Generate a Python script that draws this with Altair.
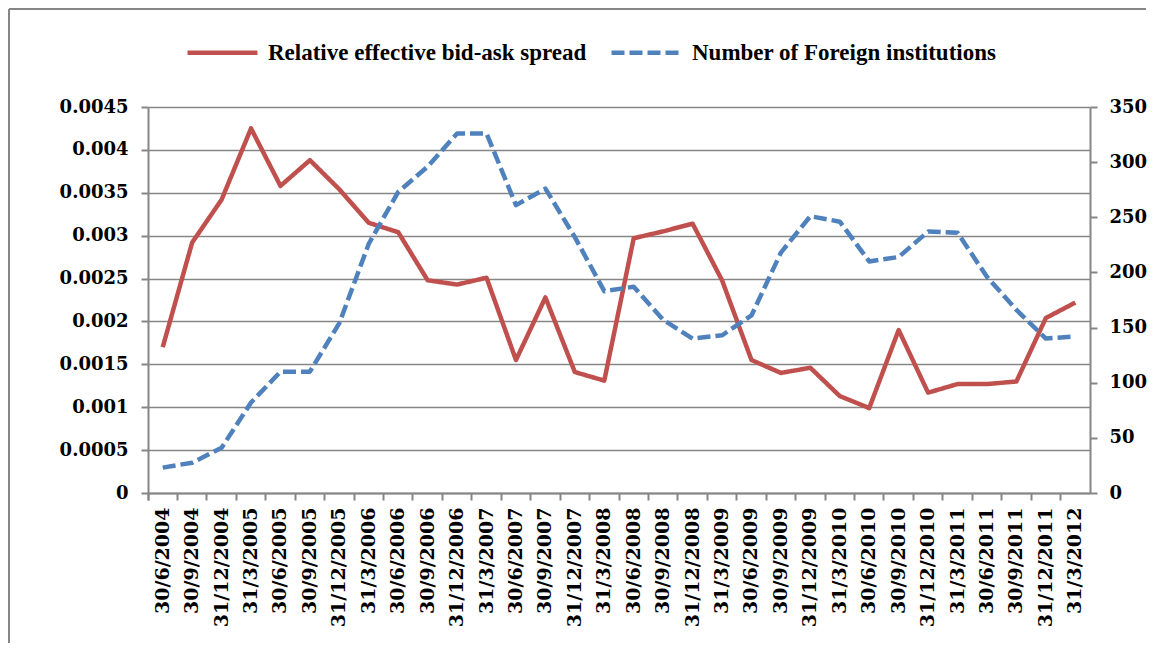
import altair as alt
import pandas as pd

dates = [
    "30/6/2004", "30/9/2004", "31/12/2004", "31/3/2005", "30/6/2005", "30/9/2005",
    "31/12/2005", "31/3/2006", "30/6/2006", "30/9/2006", "31/12/2006", "31/3/2007",
    "30/6/2007", "30/9/2007", "31/12/2007", "31/3/2008", "30/6/2008", "30/9/2008",
    "31/12/2008", "31/3/2009", "30/6/2009", "30/9/2009", "31/12/2009", "31/3/2010",
    "30/6/2010", "30/9/2010", "31/12/2010", "31/3/2011", "30/6/2011", "30/9/2011",
    "31/12/2011", "31/3/2012",
]
spread = [
    0.0017, 0.00292, 0.00342, 0.00425, 0.00358, 0.00388, 0.00354, 0.00315,
    0.00304, 0.00248, 0.00243, 0.00251, 0.00155, 0.00228, 0.00141, 0.00131,
    0.00297, 0.00305, 0.00314, 0.00248, 0.00155, 0.0014, 0.00146, 0.00113,
    0.00099, 0.0019, 0.00117, 0.00127, 0.00127, 0.0013, 0.00204, 0.00222,
]
foreign = [
    23, 27.5, 41, 82, 110, 110, 154, 226, 273, 296, 326, 326, 261, 276, 232, 183,
    187, 157, 140, 143, 161, 218, 251, 246, 210, 214, 237, 236, 196, 166, 140, 142,
]
series_names = ["Relative effective bid-ask spread", "Number of Foreign institutions"]
left_ticks = [0, 0.0005, 0.001, 0.0015, 0.002, 0.0025, 0.003, 0.0035, 0.004, 0.0045]
right_ticks = [0, 50, 100, 150, 200, 250, 300, 350]

RED = "#C0504D"
BLUE = "#4F81BD"
GRAY = "#868686"
AXFONT = "DejaVu Serif"

df = pd.DataFrame({
    "date": dates + dates,
    "value": spread + foreign,
    "series": [series_names[0]] * len(dates) + [series_names[1]] * len(dates),
})

legend = alt.Legend(
    title=None, orient="none", direction="horizontal", legendX=37, legendY=-92,
    symbolType="stroke", symbolSize=4900, symbolStrokeWidth=4.5,
    labelFont="Liberation Serif", labelFontSize=23, labelFontWeight="bold",
    labelColor="black", labelOffset=8, columnPadding=15, labelLimit=0,
)

x_enc = alt.X(
    "date:O", sort=dates, title=None,
    scale=alt.Scale(type="band", paddingInner=0, paddingOuter=0),
    axis=alt.Axis(
        labelAngle=270, bandPosition=0, tickExtra=True, grid=False,
        labelFont=AXFONT, labelFontSize=19, labelFontWeight="bold",
        labelColor="black", labelPadding=7,
    ),
)
color_enc = alt.Color(
    "series:N", scale=alt.Scale(domain=series_names, range=[RED, BLUE]), legend=legend
)
dash_enc = alt.StrokeDash(
    "series:N", scale=alt.Scale(domain=series_names, range=[[1, 0], [13, 5]]), legend=legend
)

base = alt.Chart(df)

red = base.transform_filter(alt.datum.series == series_names[0]).mark_line(
    strokeWidth=4.5, strokeJoin="round"
).encode(
    x=x_enc,
    y=alt.Y(
        "value:Q", title=None,
        scale=alt.Scale(domain=[0, 0.0045], nice=False),
        axis=alt.Axis(
            orient="left", values=left_ticks, format=".4~f", grid=True,
            labelFont=AXFONT, labelFontSize=18, labelFontWeight="bold",
            labelColor="black", labelPadding=13,
        ),
    ),
    color=color_enc,
    strokeDash=dash_enc,
)

blue = base.transform_filter(alt.datum.series == series_names[1]).mark_line(
    strokeWidth=4.5, strokeJoin="round"
).encode(
    x=x_enc,
    y=alt.Y(
        "value:Q", title=None,
        scale=alt.Scale(domain=[0, 350], nice=False),
        axis=alt.Axis(
            orient="right", values=right_ticks, grid=False,
            labelFont=AXFONT, labelFontSize=18, labelFontWeight="bold",
            labelColor="black", labelPadding=12,
        ),
    ),
    color=color_enc,
    strokeDash=dash_enc,
)

frame_data = alt.Data(values=[{"k": 0}])
frame_left = alt.Chart(frame_data).mark_rule(color=GRAY, strokeWidth=2).encode(
    x=alt.value(-139), y=alt.value(-98), y2=alt.value(536)
)
frame_top = alt.Chart(frame_data).mark_rule(color=GRAY, strokeWidth=2).encode(
    x=alt.value(-139), x2=alt.value(998), y=alt.value(-98)
)

chart = alt.layer(red, blue, frame_left, frame_top).resolve_scale(
    y="independent"
).properties(
    width=942, height=386, padding=0, background="white"
).configure_view(
    stroke=None
).configure_axis(
    domainColor=GRAY, domainWidth=2, tickColor=GRAY, tickWidth=2, tickSize=7,
    gridColor=GRAY, gridWidth=1.5,
)

chart.save("out.html", embed_options={"renderer": "svg", "actions": False})
